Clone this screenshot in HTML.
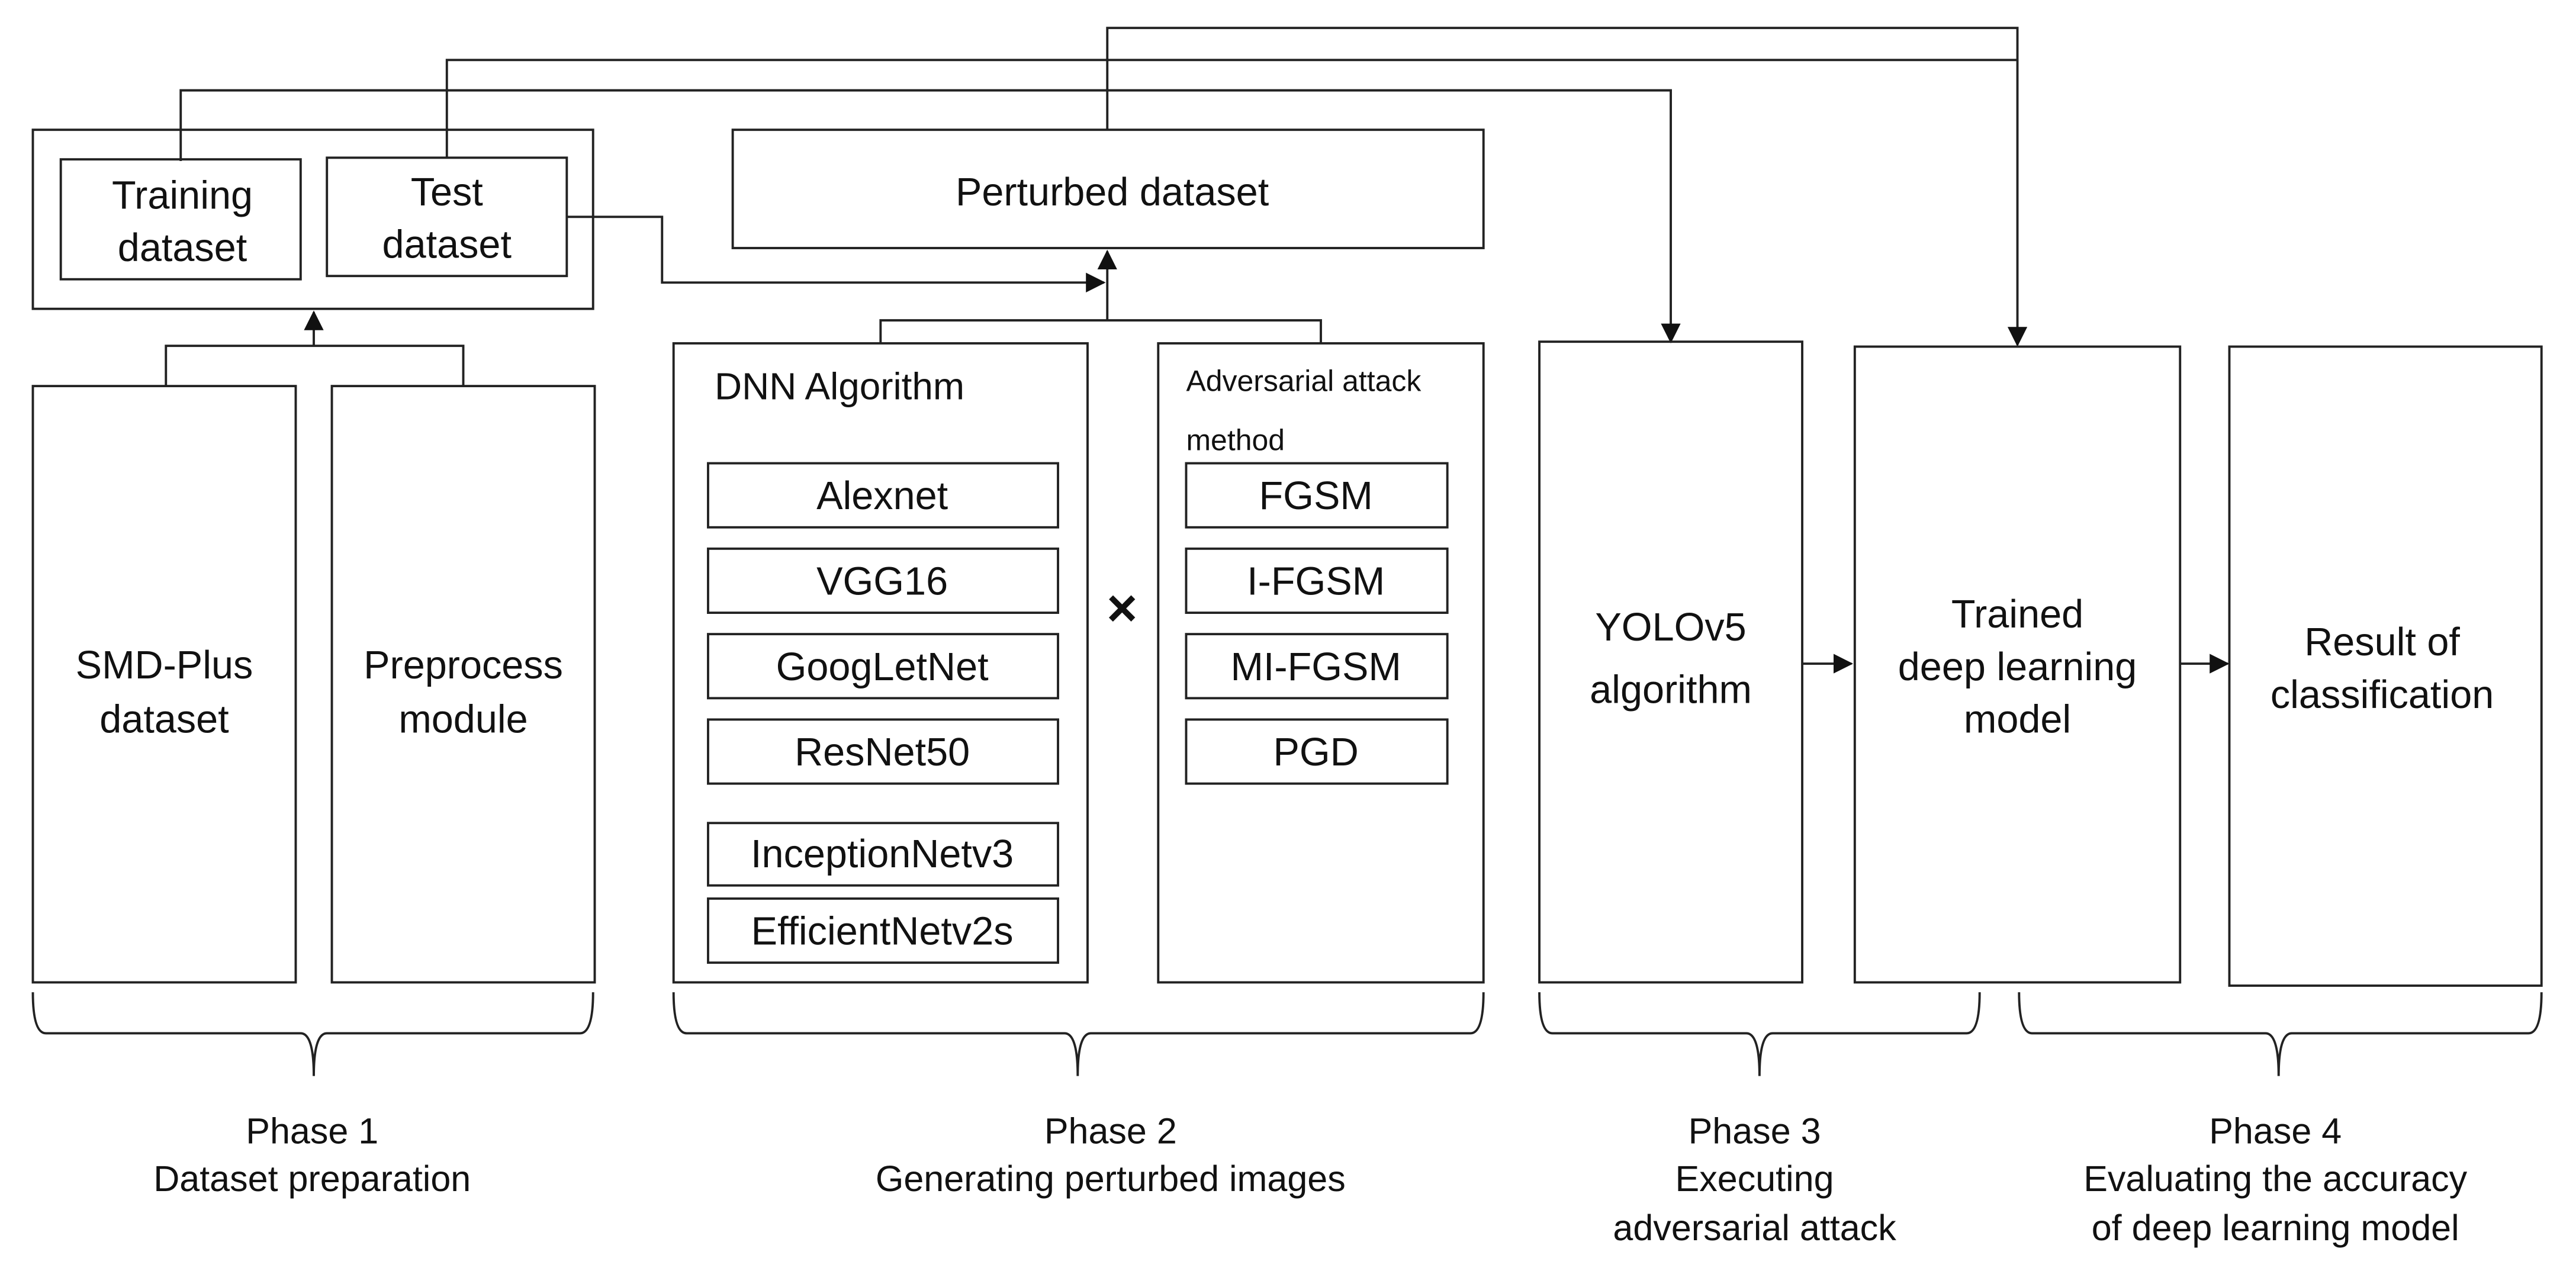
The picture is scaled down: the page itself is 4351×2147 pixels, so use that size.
<!DOCTYPE html>
<html><head><meta charset="utf-8"><style>
html,body{margin:0;padding:0;background:#fff;}
svg{display:block;}
text{font-family:"Liberation Sans",Arial,sans-serif;fill:#111;}
</style></head><body>
<svg width="4351" height="2147" viewBox="0 0 1568 773.7" preserveAspectRatio="none" xmlns="http://www.w3.org/2000/svg">
<defs>
<marker id="ah" markerWidth="12" markerHeight="12" refX="11" refY="6" orient="auto" markerUnits="userSpaceOnUse">
<path d="M0,0 L12,6 L0,12 z" fill="#111"/>
</marker>
</defs>
<g fill="none" stroke="#222" stroke-width="1.4">
<polyline points="674,79 674,17 1228,17 1228,210" marker-end="url(#ah)"/>
<polyline points="272,96 272,36.5 1228,36.5"/>
<polyline points="110,98 110,55 1017,55 1017,208" marker-end="url(#ah)"/>
<rect x="20" y="79" width="341" height="109"/>
<rect x="37" y="97" width="146" height="73"/>
<rect x="199" y="96" width="146" height="72"/>
<polyline points="345,132 403,132 403,172 672,172" marker-end="url(#ah)"/>
<rect x="446" y="79" width="457" height="72"/>
<polyline points="674,195 674,153" marker-end="url(#ah)"/>
<polyline points="536,209 536,195 804,195 804,209"/>
<polyline points="191,210.5 191,190" marker-end="url(#ah)"/>
<polyline points="101,235 101,210.5 282,210.5 282,235"/>
<rect x="20" y="235" width="160" height="363"/>
<rect x="202" y="235" width="160" height="363"/>
<rect x="410" y="209" width="252" height="389"/>
<rect x="705" y="209" width="198" height="389"/>
<rect x="431" y="282" width="213" height="39"/>
<rect x="431" y="334" width="213" height="39"/>
<rect x="431" y="386" width="213" height="39"/>
<rect x="431" y="438" width="213" height="39"/>
<rect x="431" y="501" width="213" height="38"/>
<rect x="431" y="547" width="213" height="39"/>
<rect x="722" y="282" width="159" height="39"/>
<rect x="722" y="334" width="159" height="39"/>
<rect x="722" y="386" width="159" height="39"/>
<rect x="722" y="438" width="159" height="39"/>
<rect x="937" y="208" width="160" height="390"/>
<rect x="1129" y="211" width="198" height="387"/>
<rect x="1357" y="211" width="190" height="389"/>
<polyline points="1097,404 1127,404" marker-end="url(#ah)"/>
<polyline points="1327,404 1356,404" marker-end="url(#ah)"/>
<path d="M20,604 Q20,629 28,629 L183,629 Q191,629 191,655 Q191,629 199,629 L353,629 Q361,629 361,604"/>
<path d="M410,604 Q410,629 418,629 L648,629 Q656,629 656,655 Q656,629 664,629 L895,629 Q903,629 903,604"/>
<path d="M937,604 Q937,629 945,629 L1063,629 Q1071,629 1071,655 Q1071,629 1079,629 L1197,629 Q1205,629 1205,604"/>
<path d="M1229,604 Q1229,629 1237,629 L1379,629 Q1387,629 1387,655 Q1387,629 1395,629 L1539,629 Q1547,629 1547,604"/>
</g>
<g font-size="24" text-anchor="middle">
<text x="111" y="127">Training</text>
<text x="111" y="159">dataset</text>
<text x="272" y="125">Test</text>
<text x="272" y="157">dataset</text>
<text x="677" y="125">Perturbed dataset</text>
<text x="100" y="413">SMD-Plus</text>
<text x="100" y="446">dataset</text>
<text x="282" y="413">Preprocess</text>
<text x="282" y="446">module</text>
<text x="537" y="310">Alexnet</text>
<text x="537" y="362">VGG16</text>
<text x="537" y="414">GoogLetNet</text>
<text x="537" y="466">ResNet50</text>
<text x="537" y="528">InceptionNetv3</text>
<text x="537" y="575">EfficientNetv2s</text>
<text x="801" y="310">FGSM</text>
<text x="801" y="362">I-FGSM</text>
<text x="801" y="414">MI-FGSM</text>
<text x="801" y="466">PGD</text>
<text x="1017" y="390">YOLOv5</text>
<text x="1017" y="428">algorithm</text>
<text x="1228" y="382">Trained</text>
<text x="1228" y="414">deep learning</text>
<text x="1228" y="446">model</text>
<text x="1450" y="399">Result of</text>
<text x="1450" y="431">classification</text>
</g>
<text x="435" y="243" font-size="23">DNN Algorithm</text>
<text x="722" y="238" font-size="18">Adversarial attack</text>
<text x="722" y="274" font-size="18">method</text>
<text x="683" y="381" font-size="32" font-weight="bold" text-anchor="middle">×</text>
<g font-size="22" text-anchor="middle">
<text x="190" y="696">Phase 1</text>
<text x="190" y="725">Dataset preparation</text>
<text x="676" y="696">Phase 2</text>
<text x="676" y="725">Generating perturbed images</text>
<text x="1068" y="696">Phase 3</text>
<text x="1068" y="725">Executing</text>
<text x="1068" y="755">adversarial attack</text>
<text x="1385" y="696">Phase 4</text>
<text x="1385" y="725">Evaluating the accuracy</text>
<text x="1385" y="755">of deep learning model</text>
</g>
</svg>
</body></html>
